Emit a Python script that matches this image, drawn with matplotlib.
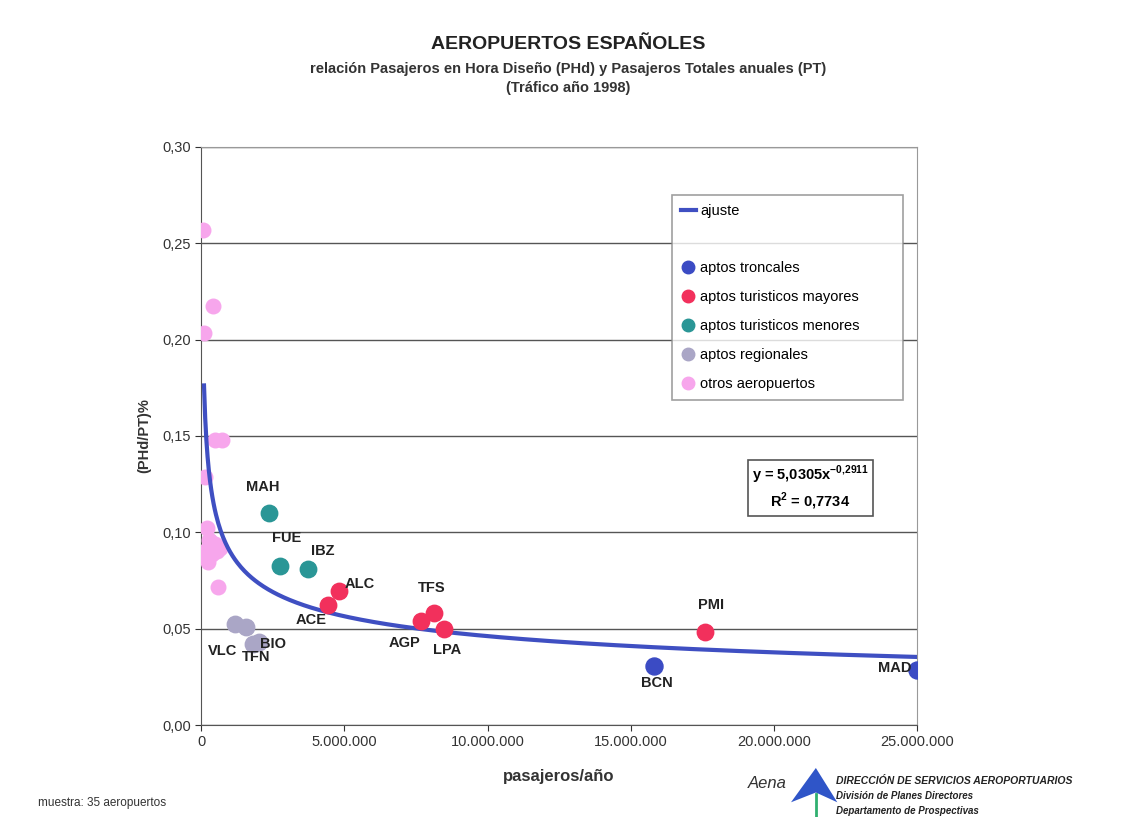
import numpy as np
import matplotlib.pyplot as plt
from matplotlib.lines import Line2D
from matplotlib.patches import Polygon

plt.rcParams['font.family'] = ['Liberation Sans', 'DejaVu Sans']
plt.rcParams['mathtext.fontset'] = 'custom'
plt.rcParams['mathtext.rm'] = 'Liberation Sans'
plt.rcParams['mathtext.bf'] = 'Liberation Sans:bold'

# Datos (pasajeros/año, (PHd/PT)%)
troncales_x = [15.82e6, 25.0e6]
troncales_y = [0.0306, 0.0285]
troncales_lab = ["BCN", "MAD"]

mayores_x = [17.6e6, 4.82e6, 4.43e6, 8.14e6, 7.68e6, 8.48e6]
mayores_y = [0.0483, 0.0695, 0.0623, 0.0581, 0.0540, 0.0498]
mayores_lab = ["PMI", "ALC", "ACE", "TFS", "AGP", "LPA"]

menores_x = [2.37e6, 2.76e6, 3.74e6]
menores_y = [0.110, 0.0825, 0.0810]
menores_lab = ["MAH", "FUE", "IBZ"]

regionales_x = [1.19e6, 1.57e6, 1.82e6, 2.02e6]
regionales_y = [0.0524, 0.0509, 0.0420, 0.0430]
regionales_lab = ["VLC", "", "TFN", "BIO"]

otros_x = [0.07e6, 0.43e6, 0.10e6, 0.50e6, 0.73e6, 0.14e6, 0.20e6, 0.42e6,
           0.66e6, 0.25e6, 0.60e6, 0.30e6, 0.18e6, 0.35e6, 0.55e6, 0.12e6,
           0.22e6, 0.48e6, 0.28e6, 0.38e6]
otros_y = [0.257, 0.2175, 0.2035, 0.148, 0.148, 0.1287, 0.102, 0.0924,
           0.092, 0.0846, 0.0716, 0.0955, 0.0880, 0.0935, 0.0905, 0.0905,
           0.0870, 0.0940, 0.0960, 0.0890]

# ajuste potencial  y = a * x^b
fit_a = 5.0305
fit_b = -0.2911
fit_r2 = 0.7734

# desplazamientos de las etiquetas (pixeles)
offsets = {"MAH": (-6, 26), "FUE": (6, 28), "IBZ": (14, 18), "ALC": (21, 7),
           "ACE": (-17, -15), "TFS": (-3, 25), "AGP": (-17, -22), "LPA": (3, -21),
           "PMI": (6, 27), "BCN": (3, -17), "MAD": (-22, 2), "VLC": (-13, -27),
           "BIO": (14, -2), "TFN": (3, -13)}

c_tron = "#3b4bc4"
c_may = "#f2305c"
c_men = "#2a9696"
c_reg = "#aaa6c6"
c_otr = "#f7a6ec"
c_fit = "#3f4fc2"

fig = plt.figure(figsize=(11.3, 8.17), dpi=100)
ax = fig.add_axes([0.178, 0.1126, 0.6337, 0.7075])

xs = np.linspace(1.0e5, 25.0e6, 600)
ax.plot(xs, fit_a * xs ** fit_b, color=c_fit, lw=3, zorder=4)

ax.scatter(otros_x, otros_y, s=110, color=c_otr, zorder=3)
ax.scatter(regionales_x, regionales_y, s=140, color=c_reg, zorder=3)
ax.scatter(menores_x, menores_y, s=140, color=c_men, zorder=3)
ax.scatter(mayores_x, mayores_y, s=140, color=c_may, zorder=5)
ax.scatter(troncales_x, troncales_y, s=150, color=c_tron, zorder=5)

for xx, yy, labs in [(troncales_x, troncales_y, troncales_lab),
                     (mayores_x, mayores_y, mayores_lab),
                     (menores_x, menores_y, menores_lab),
                     (regionales_x, regionales_y, regionales_lab)]:
    for x, y, l in zip(xx, yy, labs):
        if l == "":
            continue
        ax.annotate(l, (x, y), xytext=offsets[l], textcoords="offset pixels",
                    ha="center", va="center", fontsize=10.5, fontweight="bold",
                    color="#222222", zorder=6)

ax.set_xlim(0, 25.0e6)
ax.set_ylim(0, 0.30)
ax.set_xticks(np.arange(0, 25.0e6 + 1, 5.0e6))
ax.set_xticklabels(["0", "5.000.000", "10.000.000", "15.000.000", "20.000.000", "25.000.000"])
ax.set_yticks(np.arange(0, 0.301, 0.05))
ax.set_yticklabels(["0,00", "0,05", "0,10", "0,15", "0,20", "0,25", "0,30"])
ax.tick_params(labelsize=10.5, colors="#333333", length=4)
ax.yaxis.grid(True, color="#555555", lw=1)
ax.set_axisbelow(True)
for sp in ax.spines.values():
    sp.set_color("#999999")
ax.spines["left"].set_color("#555555")
ax.spines["bottom"].set_color("#555555")

ax.set_xlabel("pasajeros/año", fontsize=12, fontweight="bold", color="#333333", labelpad=14)
ax.set_ylabel("(PHd/PT)%", fontsize=10.5, fontweight="bold", color="#333333", labelpad=8)

# leyenda
blank = Line2D([], [], color="none")
handles = [Line2D([], [], color=c_fit, lw=3), blank,
           Line2D([], [], marker="o", ls="", color=c_tron, ms=9),
           Line2D([], [], marker="o", ls="", color=c_may, ms=9),
           Line2D([], [], marker="o", ls="", color=c_men, ms=9),
           Line2D([], [], marker="o", ls="", color=c_reg, ms=9),
           Line2D([], [], marker="o", ls="", color=c_otr, ms=9)]
labels = ["ajuste", "", "aptos troncales", "aptos turisticos mayores",
          "aptos turisticos menores", "aptos regionales", "otros aeropuertos"]
leg = ax.legend(handles, labels, loc="upper left", bbox_to_anchor=(0.658, 0.917, 0.3226, 0.0),
                mode="expand", fontsize=10.5, frameon=True, fancybox=False, edgecolor="#888888",
                handlelength=1.0, handletextpad=0.3, labelspacing=1.02,
                borderpad=0.6, borderaxespad=0)
leg.get_frame().set_linewidth(1.2)

ax.text(0.851, 0.41, "y = 5,0305x$^{\\mathbf{-0{,}2911}}$\nR$^{\\mathbf{2}}$ = 0,7734",
        transform=ax.transAxes, ha="center", va="center", fontsize=10.5, fontweight="bold",
        linespacing=1.3, bbox=dict(boxstyle="square,pad=0.25", fc="white", ec="#555555", lw=1.2))

fig.text(0.503, 0.940, "AEROPUERTOS ESPAÑOLES", ha="center", fontsize=14,
         fontweight="bold", color="#222222")
fig.text(0.503, 0.911, "relación Pasajeros en Hora Diseño (PHd) y Pasajeros Totales anuales (PT)",
         ha="center", fontsize=10.5, fontweight="bold", color="#333333")
fig.text(0.503, 0.887, "(Tráfico año 1998)", ha="center", fontsize=10.5,
         fontweight="bold", color="#333333")

fig.text(0.034, 0.014, "muestra: 35 aeropuertos", fontsize=8.5, color="#333333")
fig.text(0.662, 0.036, "Aena", fontsize=12, style="italic", color="#333333")
fig.patches.append(Polygon([[0.700, 0.018], [0.722, 0.060], [0.741, 0.018], [0.722, 0.030]],
                           closed=True, transform=fig.transFigure, fc="#2f55c8", ec="none"))
fig.lines.append(Line2D([0.722, 0.722], [0.0, 0.028], transform=fig.transFigure,
                        color="#30b070", lw=2))
fig.text(0.740, 0.041, "DIRECCIÓN DE SERVICIOS AEROPORTUARIOS", fontsize=7.5,
         fontweight="bold", style="italic", color="#222222")
fig.text(0.740, 0.022, "División de Planes Directores", fontsize=7,
         fontweight="bold", style="italic", color="#222222")
fig.text(0.740, 0.004, "Departamento de Prospectivas", fontsize=7,
         fontweight="bold", style="italic", color="#222222")

fig.savefig("out.png", dpi=100)
